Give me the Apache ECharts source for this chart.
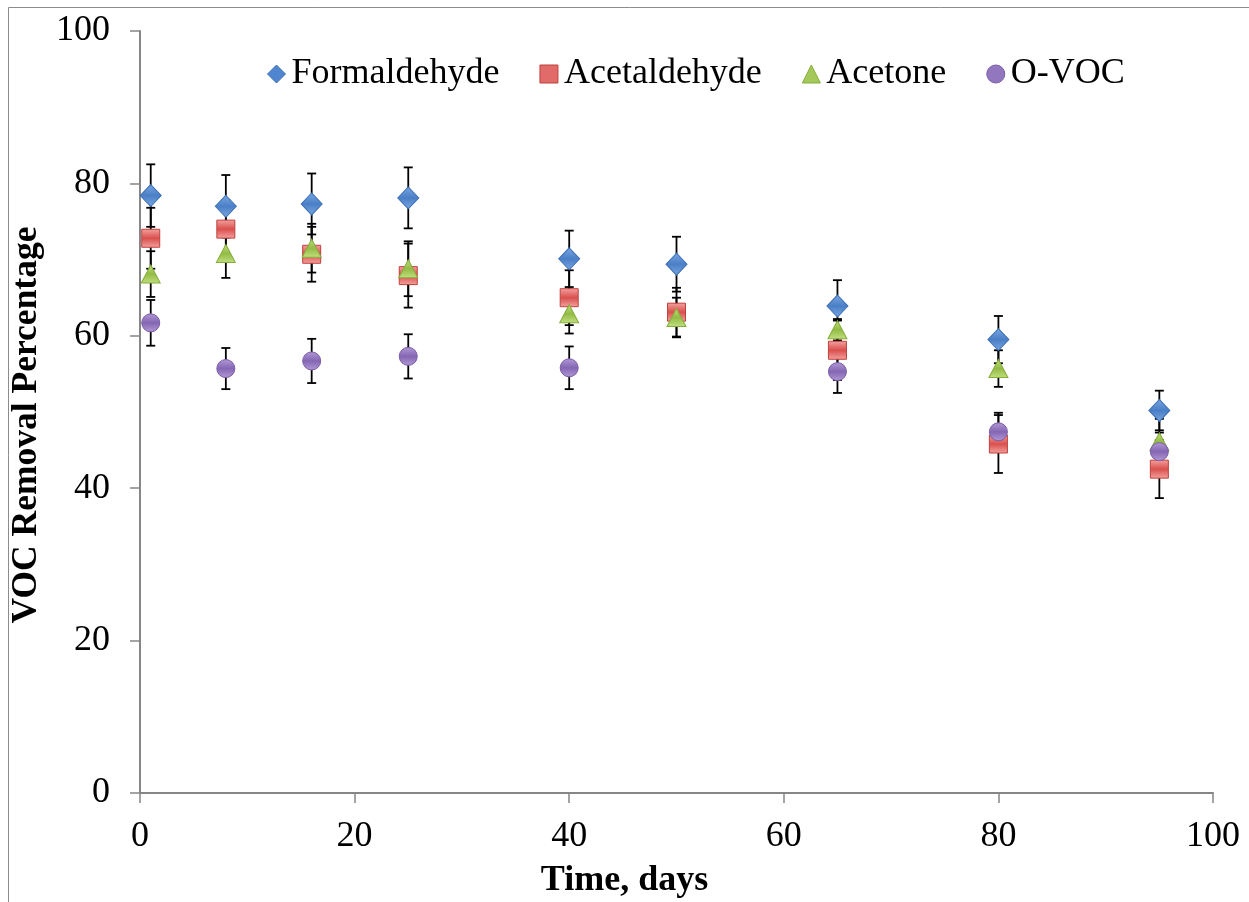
<!DOCTYPE html>
<html>
<head>
<meta charset="utf-8">
<title>VOC Removal Percentage</title>
<script src="https://cdn.jsdelivr.net/npm/echarts@6/dist/echarts.min.js"></script>
<style>
  html, body { margin: 0; padding: 0; background: #ffffff; }
  #chart { width: 1249px; height: 902px; }
</style>
</head>
<body>
<div id="chart"></div>
<script>
// Sampling times (days)
const days = [1, 8, 16, 25, 40, 50, 65, 80, 95];

// Removal percentages per compound ('-' = not measured)
const formaldehyde = [78.4, 77.0, 77.3, 78.1, 70.1, 69.4, 63.9, 59.5, 50.2];
const acetaldehyde = [72.8, 74.0, 70.7, 67.9, 65.0, 63.1, 58.1, 45.8, 42.5];
const acetone      = [68.1, 70.8, 71.5, 68.8, 62.9, 62.4, 60.8, 55.7, 46.1];
const ovoc         = [61.7, 55.7, 56.7, 57.3, 55.8, '-', 55.3, 47.4, 44.8];

// Standard deviations (error bar half-widths)
const formaldehydeErr = [4.1, 4.1, 4.0, 4.0, 3.7, 3.6, 3.4, 3.1, 2.6];
const acetaldehydeErr = [4.0, 3.8, 3.6, 4.2, 3.6, 3.2, 3.9, 3.8, 3.8];
const acetoneErr      = [3.0, 3.2, 3.2, 3.6, 2.6, 2.6, 1.4, 2.4, 3.0];
const ovocErr         = [3.0, 2.7, 2.9, 2.9, 2.8, '-', 2.8, 2.5, 2.5];

const xTicks = { min: 0, max: 100, step: 20 };
const yTicks = { min: 0, max: 100, step: 20 };

const FONT = "'Liberation Serif', 'Times New Roman', serif";
const AXIS_GREY = '#868686';

function grad(top, bottom) {
  return new echarts.graphic.LinearGradient(0, 0, 0, 1, [
    { offset: 0, color: top },
    { offset: 0.5, color: bottom },
    { offset: 1, color: top }
  ]);
}

const compounds = [
  { name: 'Formaldehyde', values: formaldehyde, err: formaldehydeErr, symbol: 'diamond', size: [21, 22],
    color: grad('#7aa7e3', '#4a7fc6'), border: '#3d70b5', legendColor: '#4f86cf' },
  { name: 'Acetaldehyde', values: acetaldehyde, err: acetaldehydeErr, symbol: 'rect', size: [18, 18],
    color: grad('#f4a3a1', '#d9504d'), border: '#c0403d', legendColor: '#e06b68' },
  { name: 'Acetone', values: acetone, err: acetoneErr, symbol: 'triangle', size: [19, 18],
    color: grad('#c2e080', '#93bb45'), border: '#86ad3a', legendColor: '#a4c95a' },
  { name: 'O-VOC', values: ovoc, err: ovocErr, symbol: 'circle', size: [18, 18],
    color: grad('#b39ad6', '#8466b3'), border: '#7a5ca8', legendColor: '#9277bf' }
];

function errorData(values, err) {
  const out = [];
  for (let i = 0; i < days.length; i++) {
    if (values[i] === '-' || err[i] === '-') continue;
    out.push([days[i], values[i] - err[i], values[i] + err[i]]);
  }
  return out;
}

function renderErrorBar(params, api) {
  const x = api.value(0);
  const lo = api.coord([x, api.value(1)]);
  const hi = api.coord([x, api.value(2)]);
  const half = 4.5;
  const style = { stroke: '#000000', lineWidth: 1.8 };
  return {
    type: 'group',
    children: [
      { type: 'line', shape: { x1: lo[0], y1: lo[1], x2: hi[0], y2: hi[1] }, style: style },
      { type: 'line', shape: { x1: lo[0] - half, y1: lo[1], x2: lo[0] + half, y2: lo[1] }, style: style },
      { type: 'line', shape: { x1: hi[0] - half, y1: hi[1], x2: hi[0] + half, y2: hi[1] }, style: style }
    ]
  };
}

const series = [];
compounds.forEach(function (c) {
  series.push({
    type: 'custom',
    name: c.name + ' SD',
    renderItem: renderErrorBar,
    data: errorData(c.values, c.err),
    encode: { x: 0, y: [1, 2] },
    z: 1,
    silent: true
  });
});
compounds.forEach(function (c, k) {
  series.push({
    type: 'scatter',
    name: c.name,
    symbol: c.symbol,
    symbolSize: c.size,
    data: days.map(function (d, i) { return [d, c.values[i]]; }),
    itemStyle: { color: c.color, borderColor: c.border, borderWidth: 1, opacity: 1 },
    z: 2 + k
  });
});

const chart = echarts.init(document.getElementById('chart'), null, { renderer: 'canvas' });
chart.setOption({
  backgroundColor: '#ffffff',
  animation: false,
  graphic: [{
    type: 'rect',
    shape: { x: 8.5, y: 7.5, width: 1400, height: 1000 },
    style: { fill: 'none', stroke: '#8c8c8c', lineWidth: 1 },
    silent: true
  }],
  grid: { left: 140, right: 36, top: 31, bottom: 109, containLabel: false, outerBoundsMode: 'none' },
  legend: {
    data: compounds.map(function (c) {
      return { name: c.name, icon: c.symbol, itemStyle: { color: c.legendColor, borderColor: c.border, borderWidth: 1 } };
    }),
    left: 262,
    top: 51,
    itemWidth: 18,
    itemHeight: 18,
    itemGap: 40,
    textStyle: { fontFamily: FONT, fontSize: 36, color: '#000000', padding: [0, 0, 0, 1] }
  },
  xAxis: {
    type: 'value',
    min: xTicks.min,
    max: xTicks.max,
    interval: xTicks.step,
    name: 'Time, days',
    nameLocation: 'middle',
    nameGap: 70,
    nameTextStyle: { fontFamily: FONT, fontSize: 36, fontWeight: 'bold', color: '#000000', padding: [0, 104, 0, 0] },
    axisLine: { show: true, onZero: false, lineStyle: { color: AXIS_GREY, width: 2 } },
    axisTick: { show: true, inside: false, length: 10, lineStyle: { color: AXIS_GREY, width: 1.5 } },
    axisLabel: { margin: 26, fontFamily: FONT, fontSize: 36, color: '#000000' },
    splitLine: { show: false }
  },
  yAxis: {
    type: 'value',
    min: yTicks.min,
    max: yTicks.max,
    interval: yTicks.step,
    name: 'VOC Removal Percentage',
    nameLocation: 'middle',
    nameGap: 80,
    nameTextStyle: { fontFamily: FONT, fontSize: 35.5, fontWeight: 'bold', color: '#000000', padding: [0, 26, 0, 0] },
    axisLine: { show: true, onZero: false, lineStyle: { color: AXIS_GREY, width: 2 } },
    axisTick: { show: true, inside: false, length: 10, lineStyle: { color: AXIS_GREY, width: 1.5 } },
    axisLabel: { margin: 30, fontFamily: FONT, fontSize: 36, color: '#000000' },
    splitLine: { show: false }
  },
  series: series
});
</script>
</body>
</html>
